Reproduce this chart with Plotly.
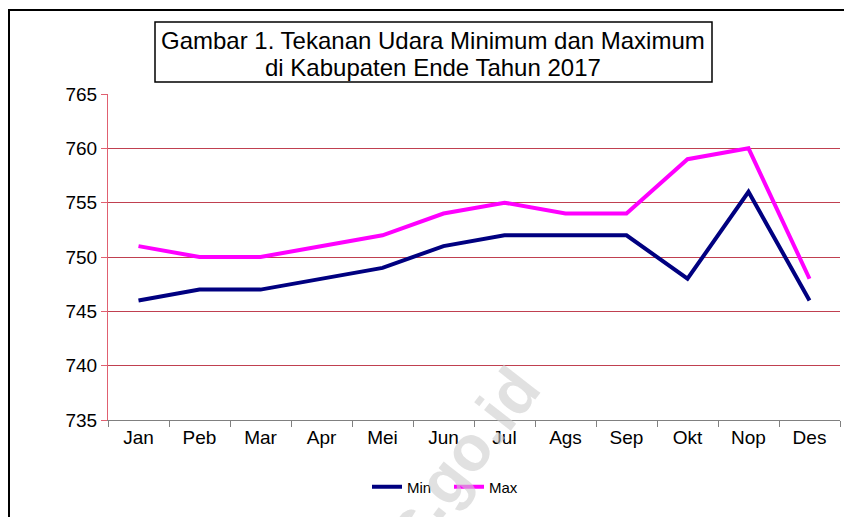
import plotly.graph_objects as go

months = ["Jan", "Peb", "Mar", "Apr", "Mei", "Jun", "Jul", "Ags", "Sep", "Okt", "Nop", "Des"]
min_vals = [746, 747, 747, 748, 749, 751, 752, 752, 752, 748, 756, 746]
max_vals = [751, 750, 750, 751, 752, 754, 755, 754, 754, 759, 760, 748]
y_ticks = [735, 740, 745, 750, 755, 760, 765]

OFF = 8  # default page margin of the HTML body
W, H = 852 - OFF, 517 - OFF
L, R, T, B = 108 - OFF, 12, 94 - OFF, 97
pw, ph = W - L - R, H - T - B

def px(x):
    return (x - OFF - L) / pw

def py(y):
    return (H - B - (y - OFF)) / ph

fig = go.Figure()
fig.add_trace(go.Scatter(x=months, y=min_vals, mode="lines", name="Min",
                         line=dict(color="#000080", width=4)))
fig.add_trace(go.Scatter(x=months, y=max_vals, mode="lines", name="Max",
                         line=dict(color="#FF00FF", width=4)))

font = "Liberation Sans, Arial, sans-serif"

fig.update_layout(
    width=W, height=H,
    margin=dict(l=L, r=R, t=T, b=B, autoexpand=False),
    paper_bgcolor="white", plot_bgcolor="white",
    font=dict(family=font, color="black"),
    showlegend=True,
    legend=dict(orientation="h", x=px(449), xanchor="center", y=py(487), yanchor="middle",
                font=dict(size=15, family=font), itemwidth=30, tracegroupgap=0,
                entrywidth=37, entrywidthmode="pixels",
                bgcolor="rgba(0,0,0,0)"),
    xaxis=dict(
        type="category", range=[-0.5, 11.5], showgrid=False, automargin=False,
        showline=True, linecolor="#808080", linewidth=1,
        ticks="outside", tickson="boundaries", ticklen=6, tickcolor="#808080",
        tickfont=dict(size=19, family=font), zeroline=False,
    ),
    yaxis=dict(
        range=[735, 765], tickvals=y_ticks, ticktext=[str(v) for v in y_ticks],
        showgrid=True, gridcolor="#C04050", gridwidth=1, automargin=False,
        showline=True, linecolor="#E06070", linewidth=1,
        ticks="outside", ticklen=6, tickcolor="#E06070",
        tickfont=dict(size=19, family=font), zeroline=False,
    ),
    shapes=[
        dict(type="rect", xref="paper", yref="paper",
             x0=px(9), x1=px(870), y0=py(540), y1=py(10),
             line=dict(color="black", width=2), fillcolor="rgba(0,0,0,0)", layer="below"),
        dict(type="rect", xref="paper", yref="paper",
             x0=px(155), x1=px(712), y0=py(82), y1=py(22),
             line=dict(color="black", width=1.5), fillcolor="white"),
    ],
    annotations=[
        dict(text="Gambar 1. Tekanan Udara Minimum dan Maximum",
             xref="paper", yref="paper", x=px(433), y=py(40), xanchor="center", yanchor="middle",
             showarrow=False, font=dict(size=24, family=font, color="black")),
        dict(text="di Kabupaten Ende Tahun 2017",
             xref="paper", yref="paper", x=px(433), y=py(67), xanchor="center", yanchor="middle",
             showarrow=False, font=dict(size=24, family=font, color="black")),
        dict(text="<b>bps.go.id</b>", xref="paper", yref="paper", x=px(438), y=py(488),
             xanchor="center", yanchor="middle", textangle=-52, showarrow=False,
             font=dict(size=64, family=font, color="rgba(205,205,205,0.6)")),
    ],
)

fig.write_html("out.html")
